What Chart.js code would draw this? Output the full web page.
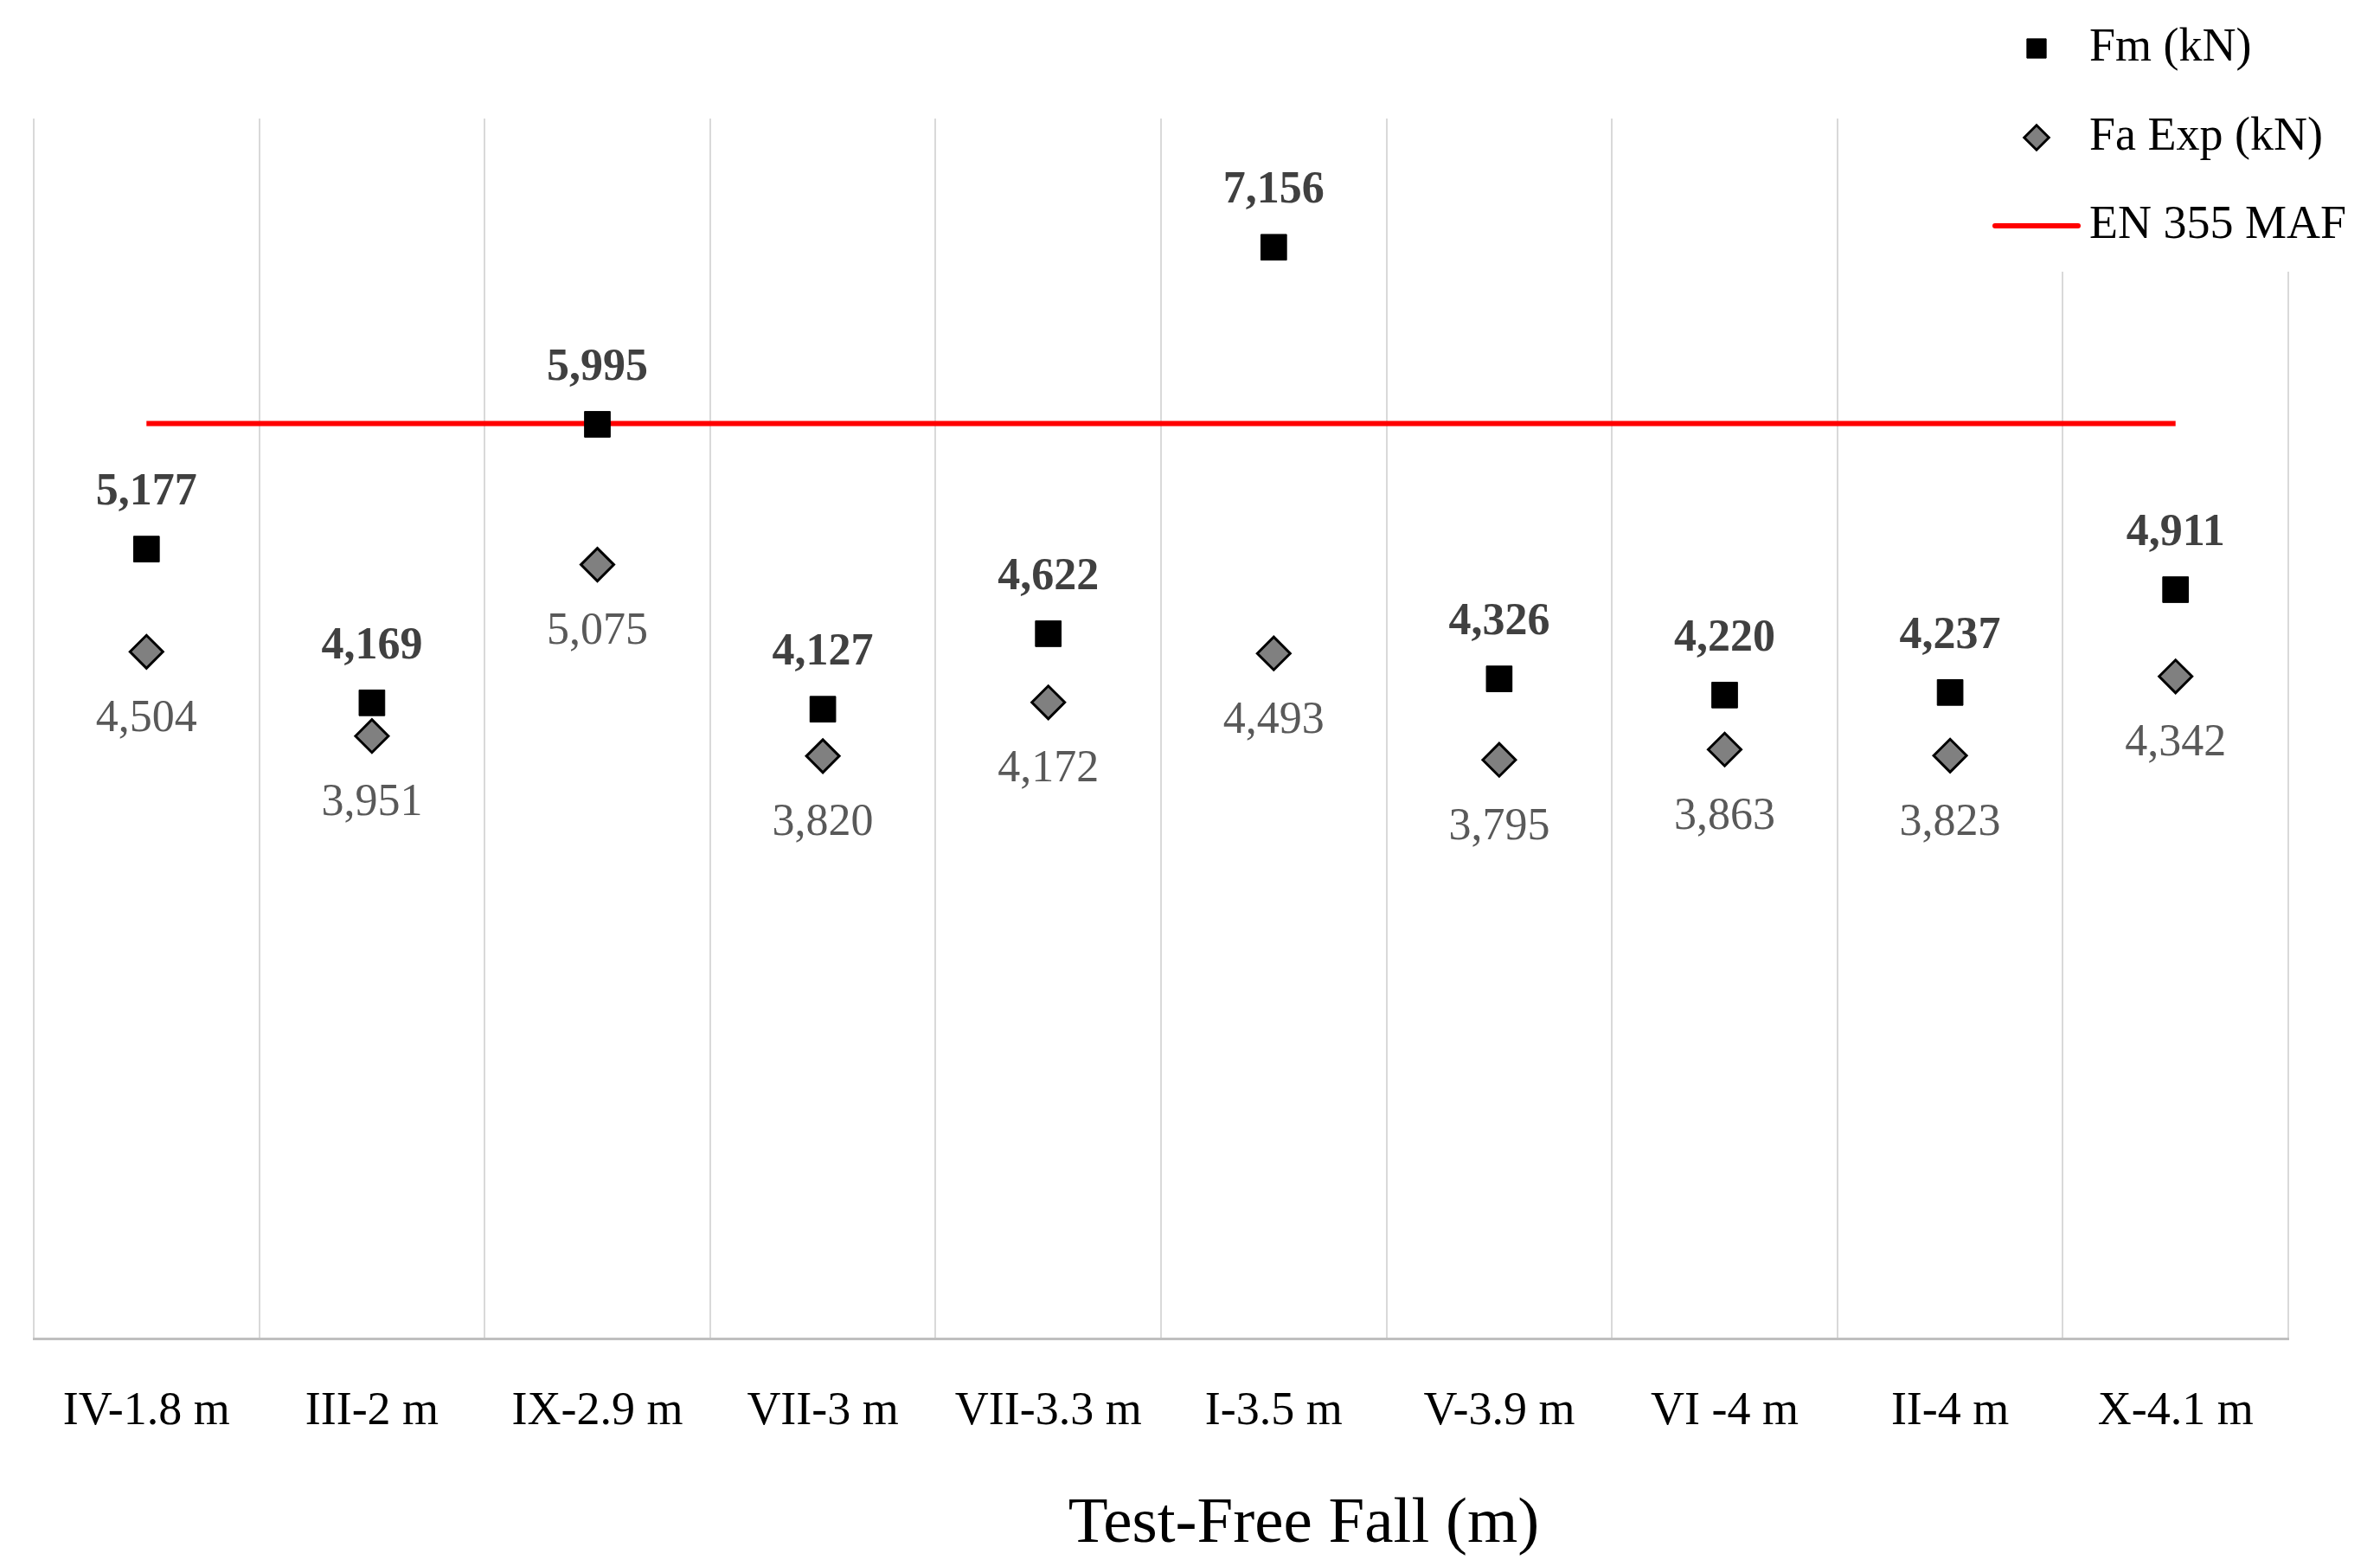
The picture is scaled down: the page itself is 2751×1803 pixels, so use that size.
<!DOCTYPE html>
<html>
<head>
<meta charset="utf-8">
<script src="https://cdn.jsdelivr.net/npm/chart.js@4.4.1/dist/chart.umd.min.js"></script>
<style>
  html, body { margin: 0; padding: 0; background: #fff; }
  #wrap { position: relative; width: 2751px; height: 1803px; }
</style>
</head>
<body>
<div id="wrap"><canvas id="fallChart"></canvas></div>
<script>
// ============================================
// DADOS (kN)
// ============================================
const categories  = ['IV-1.8 m', 'III-2 m', 'IX-2.9 m', 'VII-3 m', 'VII-3.3 m', 'I-3.5 m', 'V-3.9 m', 'VI -4 m', 'II-4 m', 'X-4.1 m'];
const fmValues    = [5.177, 4.169, 5.995, 4.127, 4.622, 7.156, 4.326, 4.220, 4.237, 4.911];
const faExpValues = [4.504, 3.951, 5.075, 3.820, 4.172, 4.493, 3.795, 3.863, 3.823, 4.342];
const mafValues   = [6, 6, 6, 6, 6, 6, 6, 6, 6, 6];
const yMin = 0;
const yMax = 8;
const xTitle = 'Test-Free Fall (m)';

const FONT = '"Liberation Serif", "Times New Roman", serif';

const fmtKN = (v) => v.toFixed(3).replace('.', ',');

// ============================================
// RÓTULOS DOS PONTOS
// ============================================
const valueLabels = {
  id: 'valueLabels',
  afterDatasetsDraw(chart) {
    const ctx = chart.ctx;
    ctx.save();
    ctx.textAlign = 'center';
    ctx.textBaseline = 'middle';
    chart.data.datasets.forEach((ds, i) => {
      if (!ds.labelStyle) return;
      const s = ds.labelStyle;
      const meta = chart.getDatasetMeta(i);
      ctx.font = s.font;
      ctx.fillStyle = s.color;
      meta.data.forEach((pt, j) => {
        ctx.fillText(fmtKN(ds.data[j]), pt.x, pt.y + s.offset);
      });
    });
    ctx.restore();
  }
};

// ============================================
// LEGENDA (canto superior direito) + TÍTULO DO EIXO X
// ============================================
const cornerLegend = {
  id: 'cornerLegend',
  afterDraw(chart) {
    const ctx = chart.ctx;
    const markX = 2354, textX = 2415;
    const rows = [56, 159, 261];
    ctx.save();
    ctx.fillStyle = '#ffffff';
    ctx.fillRect(2280, 0, 471, 314);
    ctx.font = '54px ' + FONT;
    ctx.textBaseline = 'middle';
    ctx.textAlign = 'left';
    chart.data.datasets.forEach((ds, i) => {
      const y = rows[i];
      if (ds.showLine === false) {
        ctx.fillStyle = ds.backgroundColor;
        ctx.strokeStyle = ds.borderColor;
        ctx.lineWidth = ds.pointBorderWidth;
        Chart.helpers.drawPoint(ctx, {
          pointStyle: ds.pointStyle, radius: ds.pointRadius * 0.75,
          rotation: 0, borderWidth: ds.pointBorderWidth
        }, markX, y);
      } else {
        ctx.strokeStyle = ds.borderColor;
        ctx.lineWidth = ds.borderWidth;
        ctx.lineCap = 'round';
        ctx.beginPath();
        ctx.moveTo(2306, y);
        ctx.lineTo(2402, y);
        ctx.stroke();
      }
      ctx.fillStyle = '#000000';
      ctx.fillText(ds.label, textX, y);
    });

    // título do eixo x (deslocado à direita como no original)
    ctx.font = '75px ' + FONT;
    ctx.textAlign = 'center';
    ctx.fillText(xTitle, 1507, 1762);
    ctx.restore();
  }
};

// ============================================
// GRÁFICO
// ============================================
const ctx = document.getElementById('fallChart').getContext('2d');

new Chart(ctx, {
  type: 'line',
  data: {
    labels: categories,
    datasets: [
      {
        label: 'Fm (kN)',
        data: fmValues,
        showLine: false,
        pointStyle: 'rect',
        pointRadius: 21,
        pointBorderWidth: 1,
        backgroundColor: '#000000',
        borderColor: '#000000',
        order: 1,
        labelStyle: { font: 'bold 52px ' + FONT, color: '#404040', offset: -65 },
      },
      {
        label: 'Fa Exp (kN)',
        data: faExpValues,
        showLine: false,
        pointStyle: 'rectRot',
        pointRadius: 19,
        pointBorderWidth: 3,
        backgroundColor: '#808080',
        borderColor: '#000000',
        order: 2,
        labelStyle: { font: '52px ' + FONT, color: '#595959', offset: 78 },
      },
      {
        label: 'EN 355 MAF',
        data: mafValues,
        borderColor: '#ff0000',
        backgroundColor: '#ff0000',
        borderWidth: 6,
        pointRadius: 0,
        order: 3,
      },
    ],
  },
  options: {
    responsive: true,
    maintainAspectRatio: false,
    devicePixelRatio: 1,
    animation: false,
    layout: { padding: { left: 39, right: 106, top: 137, bottom: 87 } },
    plugins: {
      legend:  { display: false },
      tooltip: { enabled: false },
    },
    scales: {
      x: {
        offset: true,
        grid:   { offset: true, color: '#d9d9d9', lineWidth: 2, drawTicks: false },
        border: { color: '#bfbfbf', width: 3 },
        ticks:  { color: '#000000', padding: 52, font: { size: 54, family: FONT } },
      },
      y: {
        display: false,
        min: yMin,
        max: yMax,
      },
    },
  },
  plugins: [valueLabels, cornerLegend],
});
</script>
</body>
</html>
